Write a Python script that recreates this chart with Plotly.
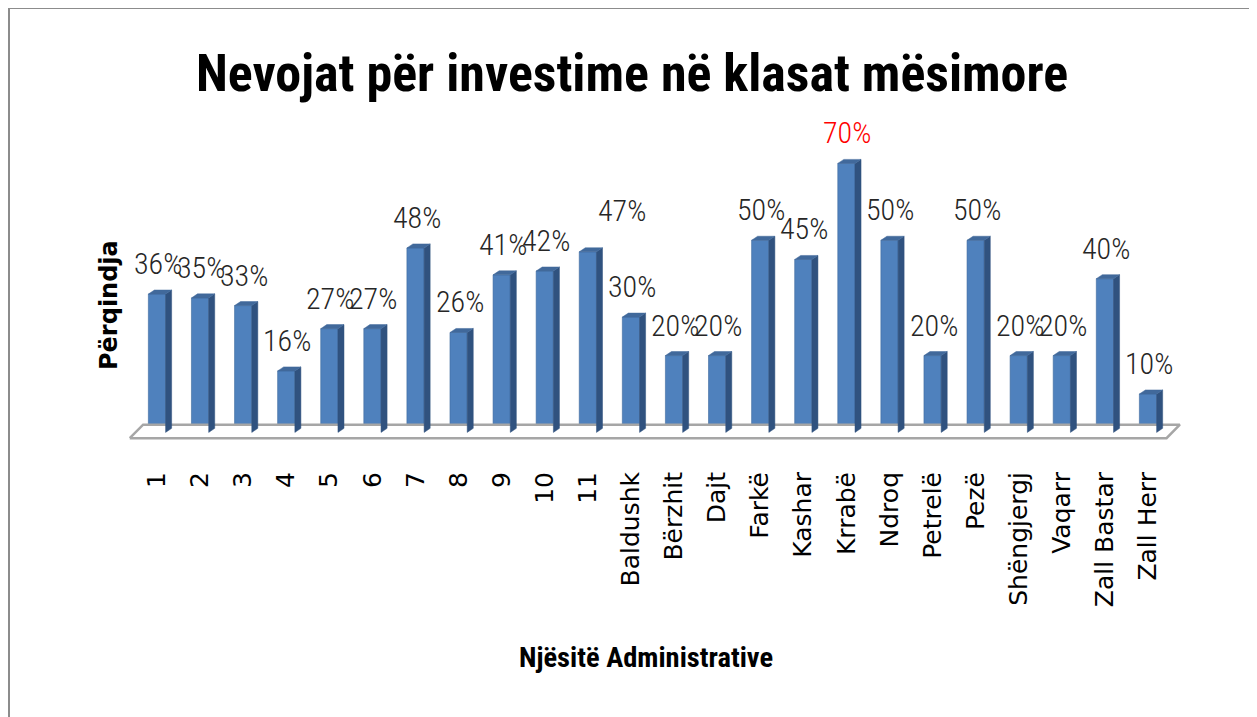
import plotly.graph_objects as go

categories = ["1", "2", "3", "4", "5", "6", "7", "8", "9", "10", "11",
              "Baldushk", "Bërzhit", "Dajt", "Farkë", "Kashar", "Krrabë",
              "Ndroq", "Petrelë", "Pezë", "Shëngjergj", "Vaqarr",
              "Zall Bastar", "Zall Herr"]
values = [36, 35, 33, 16, 27, 27, 48, 26, 41, 42, 47, 30, 20, 20, 50, 45, 70,
          50, 20, 50, 20, 20, 40, 10]
highlight = "Krrabë"

# page has an 8px body margin; size the figure to fit the window
OFF = 8
W, H = 1257 - OFF, 717 - OFF
ML, MR = 122 - OFF, 70
MT = 125 - OFF
MB = H - (442 - OFF)
PW, PH = W - ML - MR, H - MT - MB
X0, X1 = -0.812, 23.905
Y0, Y1 = -2.5, 80

def px_x(p):
    return (p - OFF - ML) / PW

def px_y(p):
    return (H - MB - (p - OFF)) / PH

BW = 0.40          # front face width (units)
DX = 0.14          # depth offset x (units)
DY = 1.05          # depth offset y (units)

FRONT = "#4F81BD"
SIDE = "#30527F"
TOP = "#41699B"

idx = list(range(len(categories)))

fig = go.Figure()

# floor
n = len(categories)
fx = [X0 + 0.18, X0 + 0.18 + 0.31, n - 1 + 0.74, n - 1 + 0.43, X0 + 0.18]
fy = [-1.5, 2.0, 2.0, -1.5, -1.5]
fig.add_trace(go.Scatter(x=fx, y=fy, mode="lines", fill="toself",
                         fillcolor="white", line=dict(color="#A6A6A6", width=2.5),
                         hoverinfo="skip", showlegend=False))

# front faces
fig.add_trace(go.Bar(x=idx, y=values, width=BW,
                     marker=dict(color=FRONT, line=dict(width=0.6, color="#3E6A9E")),
                     hovertext=categories, showlegend=False))

# side and top faces
sx, sy, tx, ty = [], [], [], []
for i, v in zip(idx, values):
    r = i + BW / 2
    l = i - BW / 2
    sx += [r, r + DX, r + DX, r, r, None]
    sy += [0, DY, v + DY, v, 0, None]
    tx += [l, l + DX, r + DX, r, l, None]
    ty += [v, v + DY, v + DY, v, v, None]
fig.add_trace(go.Scatter(x=sx, y=sy, mode="lines", fill="toself", fillcolor=SIDE,
                         line=dict(color=SIDE, width=0.5), hoverinfo="skip", showlegend=False))
fig.add_trace(go.Scatter(x=tx, y=ty, mode="lines", fill="toself", fillcolor=TOP,
                         line=dict(color=TOP, width=0.5), hoverinfo="skip", showlegend=False))

COND = "Liberation Sans Narrow, Arial Narrow, Roboto Condensed, sans-serif"
annotations = []
label_nudge = {10: (33, 11)}
for i, (c, v) in enumerate(zip(categories, values)):
    dxs, dys = label_nudge.get(i, (0, 0))
    annotations.append(dict(
        x=i, y=v, xref="x", yref="y", text=f"{v}%", showarrow=False,
        xanchor="center", yanchor="bottom", yshift=11 + dys, xshift=1 + dxs,
        font=dict(family=COND, size=30, weight=300,
                  color="#FF0000" if c == highlight else "#262626")))

annotations.append(dict(
    x=px_x(632), y=px_y(74), xref="paper", yref="paper",
    text="<b>Nevojat për investime në klasat mësimore</b>", showarrow=False,
    xanchor="center", yanchor="middle",
    font=dict(family=COND, size=52, color="black")))
annotations.append(dict(
    x=px_x(109), y=px_y(305), xref="paper", yref="paper",
    text="<b>Përqindja</b>", showarrow=False, textangle=-90,
    xanchor="center", yanchor="middle",
    font=dict(family="DejaVu Sans", size=24, color="black")))
annotations.append(dict(
    x=px_x(646), y=px_y(657), xref="paper", yref="paper",
    text="<b>Njësitë Administrative</b>", showarrow=False,
    xanchor="center", yanchor="middle",
    font=dict(family=COND, size=28.5, color="black")))

fig.update_layout(
    width=W, height=H,
    margin=dict(l=ML, r=MR, t=MT, b=MB, autoexpand=False),
    paper_bgcolor="white", plot_bgcolor="white",
    showlegend=False,
    annotations=annotations,
    shapes=[dict(type="rect", xref="paper", yref="paper",
                 x0=px_x(9), x1=px_x(1290), y0=px_y(760), y1=px_y(8),
                 line=dict(color="#8C8C8C", width=2), fillcolor="rgba(0,0,0,0)",
                 layer="below")],
    xaxis=dict(range=[X0, X1], tickmode="array", tickvals=idx, ticktext=categories,
               tickangle=-90, ticks="", showgrid=False, zeroline=False, showline=False,
               ticklabelstandoff=24,
               tickfont=dict(family="DejaVu Sans", size=25, color="black")),
    yaxis=dict(range=[Y0, Y1], showticklabels=False, showgrid=False, zeroline=False,
               showline=False, ticks=""),
)

fig.write_html("out.html")
